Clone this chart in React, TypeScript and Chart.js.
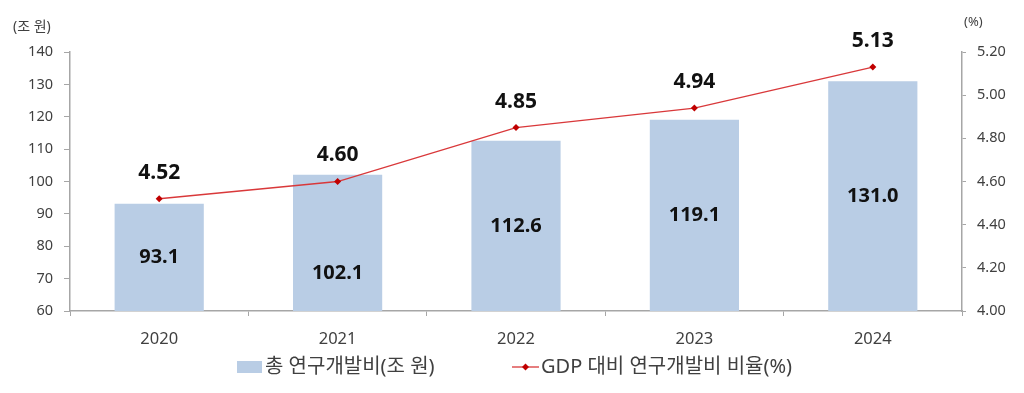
import React, { useEffect, useRef } from "react";
import { Chart, registerables } from "chart.js";

Chart.register(...registerables);

const years = ["2020", "2021", "2022", "2023", "2024"];
const rndSpend = [93.1, 102.1, 112.6, 119.1, 131.0];
const gdpRatio = [4.52, 4.6, 4.85, 4.94, 5.13];
const barLabel = "총 연구개발비(조 원)";
const lineLabel = "GDP 대비 연구개발비 비율(%)";
const leftUnit = "(조 원)";
const rightUnit = "(%)";

const FONT = "'Noto Sans', 'Noto Sans CJK KR', sans-serif";
const BAR_COLOR = "#B9CDE5";
const LINE_COLOR = "#D9383A";
const POINT_COLOR = "#C00000";
const AXIS_COLOR = "#A6A6A6";
const TEXT_COLOR = "#404040";

const labelsPlugin = {
  id: "customLabels",
  afterDatasetsDraw(chart: any) {
    const ctx = chart.ctx;
    const bottom = chart.chartArea.bottom;
    ctx.save();
    ctx.textAlign = "center";
    ctx.textBaseline = "middle";
    ctx.fillStyle = "#111111";
    const barMeta = chart.getDatasetMeta(0);
    const barShift = [0, 30, 0, 0, 0];
    ctx.font = `bold 20px ${FONT}`;
    barMeta.data.forEach((el: any, i: number) => {
      const v = chart.data.datasets[0].data[i] as number;
      const cy = (el.y + Math.min(el.base, bottom)) / 2 + barShift[i];
      ctx.fillText(v.toFixed(1), el.x, cy);
    });
    const lineMeta = chart.getDatasetMeta(1);
    ctx.font = `bold 21px ${FONT}`;
    lineMeta.data.forEach((el: any, i: number) => {
      const v = chart.data.datasets[1].data[i] as number;
      ctx.fillText(v.toFixed(2), el.x, el.y - 26);
    });
    ctx.restore();
  },
  afterDraw(chart: any) {
    const ctx = chart.ctx;
    ctx.save();
    ctx.fillStyle = TEXT_COLOR;
    ctx.textBaseline = "middle";
    ctx.textAlign = "left";
    ctx.font = `14px ${FONT}`;
    ctx.fillText(leftUnit, 13, 27);
    ctx.font = `13px ${FONT}`;
    ctx.fillText(rightUnit, 964, 22);

    const ly = 367;
    ctx.fillStyle = BAR_COLOR;
    ctx.fillRect(237, ly - 6, 25, 12);
    ctx.fillStyle = TEXT_COLOR;
    ctx.font = `20px ${FONT}`;
    ctx.fillText(barLabel, 265, ly);

    ctx.strokeStyle = LINE_COLOR;
    ctx.lineWidth = 1.3;
    ctx.beginPath();
    ctx.moveTo(512, ly);
    ctx.lineTo(539, ly);
    ctx.stroke();
    ctx.fillStyle = POINT_COLOR;
    ctx.beginPath();
    ctx.moveTo(525.5, ly - 3.5);
    ctx.lineTo(529, ly);
    ctx.lineTo(525.5, ly + 3.5);
    ctx.lineTo(522, ly);
    ctx.closePath();
    ctx.fill();
    ctx.fillStyle = TEXT_COLOR;
    ctx.fillText(lineLabel, 541, ly);
    ctx.restore();
  },
};

export default function App() {
  const ref = useRef<HTMLCanvasElement | null>(null);

  useEffect(() => {
    document.body.style.margin = "0";
    const canvas = ref.current;
    if (!canvas) return;
    const chart = new Chart(canvas, {
      type: "bar",
      data: {
        labels: years,
        datasets: [
          {
            type: "bar",
            label: barLabel,
            data: rndSpend,
            backgroundColor: BAR_COLOR,
            borderWidth: 0,
            categoryPercentage: 1,
            barPercentage: 0.5,
            yAxisID: "y",
            order: 2,
          },
          {
            type: "line",
            label: lineLabel,
            data: gdpRatio,
            borderColor: LINE_COLOR,
            borderWidth: 1.3,
            pointStyle: "rectRot",
            pointRadius: 3.5,
            pointBackgroundColor: POINT_COLOR,
            pointBorderColor: POINT_COLOR,
            pointBorderWidth: 0,
            tension: 0,
            yAxisID: "y1",
            order: 1,
          } as any,
        ],
      },
      options: {
        responsive: false,
        animation: false,
        devicePixelRatio: 1,
        layout: { padding: { top: 52, bottom: 0, left: 0, right: 0 } },
        plugins: {
          legend: { display: false },
          tooltip: { enabled: false },
        },
        scales: {
          x: {
            grid: {
              drawOnChartArea: false,
              drawTicks: true,
              tickLength: 5,
              color: AXIS_COLOR,
              offset: true,
            },
            border: { display: true, color: AXIS_COLOR, width: 1.5 },
            ticks: {
              color: TEXT_COLOR,
              font: { family: FONT, size: 16.5 },
              padding: 13,
            },
            afterFit(scale: any) {
              scale.height = 82;
            },
          },
          y: {
            position: "left",
            min: 60,
            max: 140,
            ticks: {
              stepSize: 10,
              color: TEXT_COLOR,
              font: { family: FONT, size: 14.5 },
              padding: 11,
            },
            grid: {
              drawOnChartArea: false,
              drawTicks: true,
              tickLength: 6,
              color: AXIS_COLOR,
            },
            border: { display: true, color: AXIS_COLOR, width: 1.5 },
            afterFit(scale: any) {
              scale.width = 70;
            },
          },
          y1: {
            position: "right",
            min: 4,
            max: 5.2,
            ticks: {
              stepSize: 0.2,
              color: TEXT_COLOR,
              font: { family: FONT, size: 14.5 },
              padding: 11,
              callback: (v: any) => Number(v).toFixed(2),
            },
            grid: {
              drawOnChartArea: false,
              drawTicks: true,
              tickLength: 4,
              color: AXIS_COLOR,
            },
            border: { display: true, color: AXIS_COLOR, width: 1.5 },
            afterFit(scale: any) {
              scale.width = 62;
            },
          },
        },
      },
      plugins: [labelsPlugin],
    });
    return () => chart.destroy();
  }, []);

  return (
    <div style={{ width: 1024, height: 393, background: "#fff" }}>
      <canvas ref={ref} width={1024} height={393} style={{ display: "block" }} />
    </div>
  );
}
